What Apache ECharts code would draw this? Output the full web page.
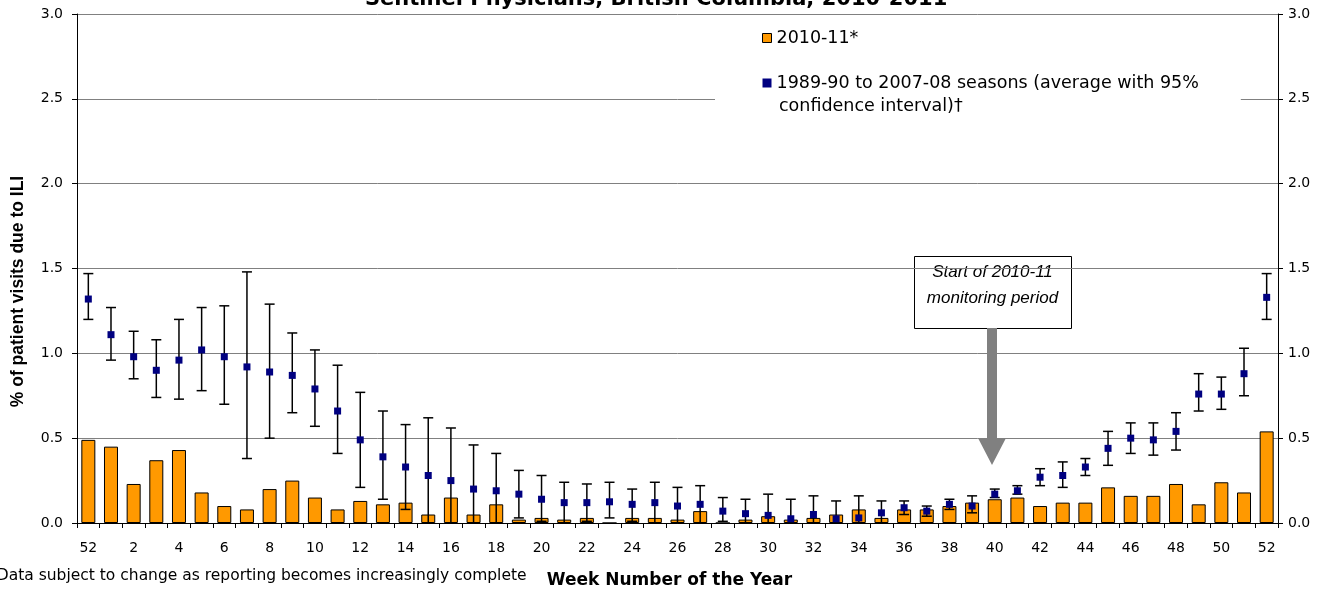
<!DOCTYPE html>
<html>
<head>
<meta charset="utf-8">
<script src="https://cdn.jsdelivr.net/npm/echarts@6/dist/echarts.min.js"></script>
<style>
  html, body { margin: 0; padding: 0; background: #fff; }
  #chart { width: 1328px; height: 594px; }
</style>
</head>
<body>
<div id="chart"></div>
<script>
// week labels, season 2010-11 starts at 52
const weeks = ["52", "1", "2", "3", "4", "5", "6", "7", "8", "9", "10", "11", "12", "13", "14", "15", "16", "17", "18", "19", "20",
  "21", "22", "23", "24", "25", "26", "27", "28", "29", "30", "31", "32", "33", "34", "35", "36", "37", "38", "39", "40",
  "41", "42", "43", "44", "45", "46", "47", "48", "49", "50", "51", "52"];

// 2010-11 % of visits due to ILI (bars)
const season2010 = [0.49, 0.45, 0.23, 0.37, 0.43, 0.18, 0.10, 0.08, 0.20, 0.25, 0.15, 0.08, 0.13, 0.11, 0.12, 0.05, 0.15, 0.05, 0.11, 0.02, 0.03,
  0.02, 0.03, 0, 0.03, 0.03, 0.02, 0.07, 0, 0.02, 0.04, 0.02, 0.03, 0.05, 0.08, 0.03, 0.08, 0.08, 0.10, 0.12, 0.14,
  0.15, 0.10, 0.12, 0.12, 0.21, 0.16, 0.16, 0.23, 0.11, 0.24, 0.18, 0.54];

// 1989-90 to 2007-08 average and 95% CI
const avgPast = [1.32, 1.11, 0.98, 0.90, 0.96, 1.02, 0.98, 0.92, 0.89, 0.87, 0.79, 0.66, 0.49, 0.39, 0.33, 0.28, 0.25, 0.20, 0.19, 0.17, 0.14,
  0.12, 0.12, 0.125, 0.11, 0.12, 0.10, 0.11, 0.07, 0.055, 0.045, 0.025, 0.05, 0.025, 0.03, 0.06, 0.09, 0.07, 0.11, 0.10, 0.17,
  0.19, 0.27, 0.28, 0.33, 0.44, 0.50, 0.49, 0.54, 0.76, 0.76, 0.88, 1.33];
const ciHigh = [1.47, 1.27, 1.13, 1.08, 1.20, 1.27, 1.28, 1.48, 1.29, 1.12, 1.02, 0.93, 0.77, 0.66, 0.58, 0.62, 0.56, 0.46, 0.41, 0.31, 0.28,
  0.24, 0.23, 0.24, 0.20, 0.24, 0.21, 0.22, 0.15, 0.14, 0.17, 0.14, 0.16, 0.13, 0.16, 0.13, 0.13, 0.10, 0.14, 0.16, 0.20,
  0.22, 0.32, 0.36, 0.38, 0.54, 0.59, 0.59, 0.65, 0.88, 0.86, 1.03, 1.47];
const ciLow = [1.20, 0.96, 0.85, 0.74, 0.73, 0.78, 0.70, 0.38, 0.50, 0.65, 0.57, 0.41, 0.21, 0.14, 0.08, 0, 0, 0, 0, 0.03, 0.01,
  0, 0.01, 0.03, 0.01, 0, 0, 0, 0.01, 0, 0, 0, 0, 0, 0, 0, 0.05, 0.04, 0.08, 0.06, 0.15,
  0.17, 0.22, 0.21, 0.28, 0.34, 0.41, 0.40, 0.43, 0.66, 0.67, 0.75, 1.20];

const yTicks = [0, 0.5, 1, 1.5, 2, 2.5, 3];

const barName = "2010-11*";
const avgName = "1989-90 to 2007-08 seasons (average with 95%";

const font = "DejaVu Sans";
const myChart = echarts.init(document.getElementById("chart"));

const yAxisBase = {
  type: "value",
  min: yTicks[0],
  max: yTicks[yTicks.length - 1],
  interval: 0.5,
  axisLine: { show: true, lineStyle: { color: "#000", width: 1 } },
  axisTick: { show: true, length: 5, lineStyle: { color: "#000" } },
  axisLabel: { color: "#000", fontFamily: font, fontSize: 14, formatter: (v) => v.toFixed(1) },
};

const option = {
  animation: false,
  backgroundColor: "#fff",
  title: {
    text: "Sentinel Physicians, British Columbia, 2010-2011",
    left: 360,
    top: -16,
    textStyle: { fontFamily: font, fontWeight: "bold", fontSize: 21, color: "#000" },
  },
  grid: { left: 77, right: 50, top: 14, bottom: 70 },
  legend: {
    orient: "vertical",
    left: 715,
    top: 21,
    padding: [8, 42, 32, 47],
    backgroundColor: "#fff",
    itemGap: 27,
    itemWidth: 9,
    itemHeight: 9,
    selectedMode: false,
    textStyle: { fontFamily: font, fontSize: 17.5, color: "#000" },
    data: [
      { name: barName, icon: "rect", itemStyle: { color: "#FF9900", borderColor: "#000", borderWidth: 1 } },
      { name: avgName, icon: "rect", itemStyle: { color: "#000080", opacity: 1 } },
    ],
  },
  xAxis: {
    type: "category",
    data: weeks,
    boundaryGap: true,
    name: "Week Number of the Year",
    nameLocation: "middle",
    nameGap: 49,
    nameTextStyle: { fontFamily: font, fontWeight: "bold", fontSize: 17, color: "#000", padding: [0, 16, 0, 0] },
    axisLine: { lineStyle: { color: "#000" } },
    axisTick: { show: true, length: 5, interval: 0, lineStyle: { color: "#000" } },
    axisLabel: { interval: 1, color: "#000", fontFamily: font, fontSize: 14, margin: 18 },
  },
  yAxis: [
    Object.assign({}, yAxisBase, {
      position: "left",
      name: "% of patient visits due to ILI",
      nameLocation: "middle",
      nameGap: 50,
      nameTextStyle: { fontFamily: "Liberation Sans", fontWeight: "bold", fontSize: 17.5, color: "#000", padding: [0, 46, 0, 0] },
      axisLabel: Object.assign({}, yAxisBase.axisLabel, { margin: 14 }),
      splitLine: { show: true, lineStyle: { color: "#808080", width: 1 } },
    }),
    Object.assign({}, yAxisBase, {
      position: "right",
      axisLabel: Object.assign({}, yAxisBase.axisLabel, { margin: 10 }),
      splitLine: { show: false },
    }),
  ],
  series: [
    {
      name: barName,
      type: "bar",
      data: season2010,
      barWidth: 14,
      itemStyle: { color: "#FF9900", borderColor: "#000", borderWidth: 1 },
      z: 2,
    },
    {
      name: "95% CI",
      type: "custom",
      z: 3,
      data: weeks.map((w, i) => [i, ciLow[i], ciHigh[i]]),
      renderItem: (params, api) => {
        const lo = api.coord([api.value(0), api.value(1)]);
        const hi = api.coord([api.value(0), api.value(2)]);
        const cap = 5;
        const style = { stroke: "#000", lineWidth: 1.5 };
        return {
          type: "group",
          children: [
            { type: "line", shape: { x1: hi[0], y1: hi[1], x2: lo[0], y2: lo[1] }, style },
            { type: "line", shape: { x1: hi[0] - cap, y1: hi[1], x2: hi[0] + cap, y2: hi[1] }, style },
            { type: "line", shape: { x1: lo[0] - cap, y1: lo[1], x2: lo[0] + cap, y2: lo[1] }, style },
          ],
        };
      },
    },
    {
      name: avgName,
      type: "scatter",
      data: avgPast,
      symbol: "rect",
      symbolSize: 7,
      itemStyle: { color: "#000080", opacity: 1 },
      z: 4,
    },
  ],
  graphic: [
    {
      type: "text",
      left: 779,
      top: 97,
      z: 10,
      style: { text: "confidence interval)\u2020", fontFamily: font, fontSize: 17.5, fill: "#000" },
    },
    {
      type: "text",
      left: -11,
      top: 568,
      style: { text: "*Data subject to change as reporting becomes increasingly complete", fontFamily: font, fontSize: 15.5, fill: "#000" },
    },
    // annotation: start of monitoring period
    {
      type: "group",
      left: 914,
      top: 256,
      z: 10,
      children: [
        {
          type: "rect",
          shape: { x: 0, y: 0, width: 157, height: 72 },
          style: { fill: "#fff", stroke: "#000", lineWidth: 1 },
        },
        {
          type: "text",
          x: 78,
          y: 16,
          style: { text: "Start of 2010-11", fontFamily: "Liberation Sans", fontStyle: "italic", fontSize: 17, fill: "#000", align: "center", verticalAlign: "middle" },
        },
        {
          type: "text",
          x: 78,
          y: 42,
          style: { text: "monitoring period", fontFamily: "Liberation Sans", fontStyle: "italic", fontSize: 17, fill: "#000", align: "center", verticalAlign: "middle" },
        },
      ],
    },
    {
      type: "polygon",
      z: 10,
      shape: {
        points: [[987, 328], [997, 328], [997, 438], [1006, 438], [992, 465], [978, 438], [987, 438]],
      },
      style: { fill: "#808080" },
    },
  ],
};

myChart.setOption(option);
</script>
</body>
</html>
